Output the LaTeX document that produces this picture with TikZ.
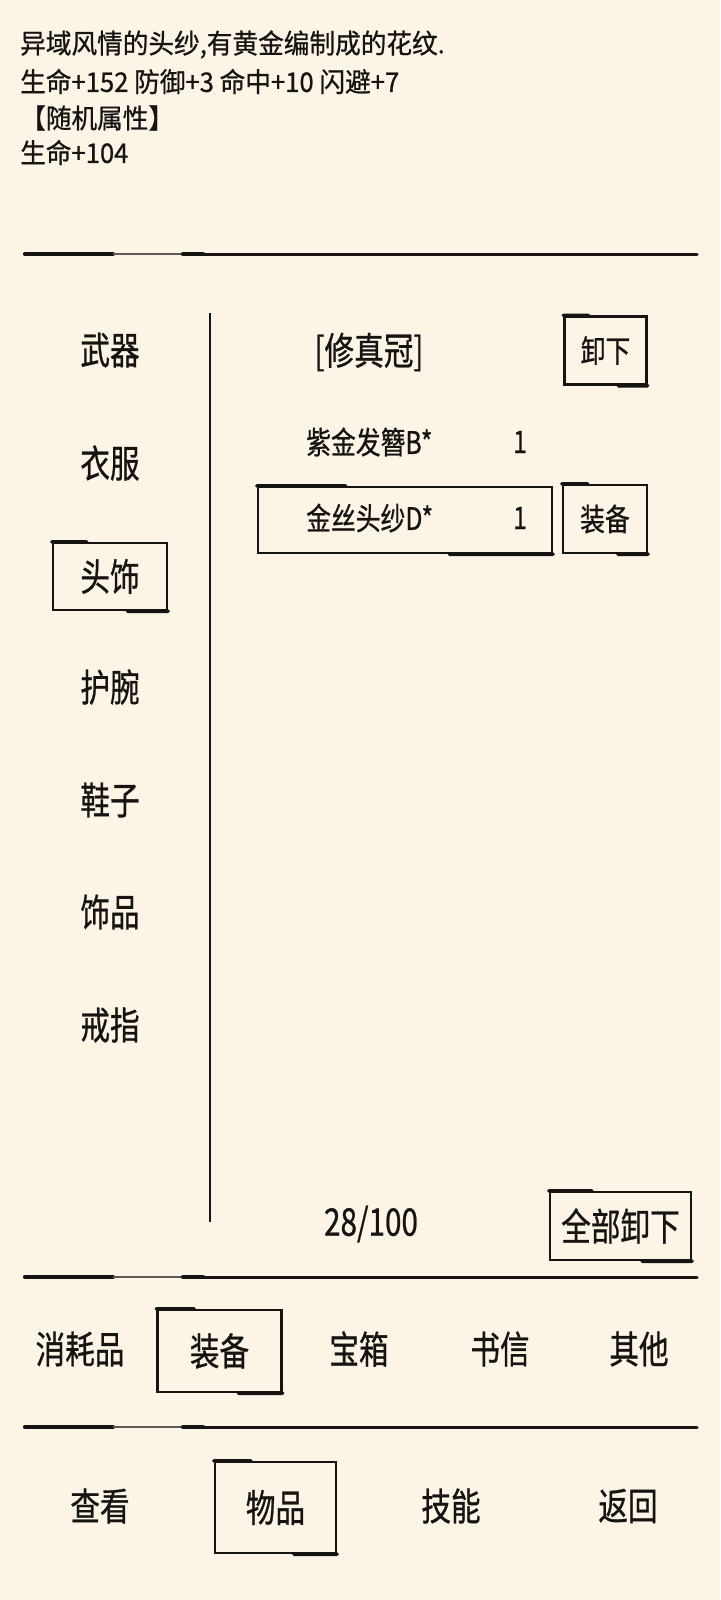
\documentclass[tikz,border=0pt]{standalone}
\usepackage{fontspec}
\setmainfont{Noto Sans CJK SC}[FakeBold=0.8]
\usetikzlibrary{calc}
\definecolor{paper}{RGB}{252,245,230}
\definecolor{ink}{RGB}{22,20,18}
\newcommand\txtL[1]{\scalebox{0.78}[1]{\fontsize{38}{40}\selectfont #1}}
\newcommand\txtM[1]{\scalebox{0.8}[1]{\fontsize{31}{33}\selectfont #1}}
\newcommand\txtS[1]{\scalebox{0.95}[1]{\fontsize{27}{29}\selectfont #1}}
\tikzset{
  lbl/.style={inner sep=0pt, text=ink},
  boxed/.style={draw=ink, line width=2.4pt, inner sep=0pt, text=ink},
  brush/.style={draw=ink, line width=3.6pt, line cap=round},
  sepline/.style={draw=ink, line width=3pt, line cap=round},
  septhick/.style={draw=ink, line width=4.2pt, line cap=round},
  sepfade/.style={draw=ink!70, line width=2.8pt},
  vline/.style={draw=ink, line width=2.6pt}
}
\begin{document}
\begin{tikzpicture}[x=1pt,y=-1pt]
\fill[paper] (0,0) rectangle (720,1600);
\useasboundingbox (0,0) rectangle (720,1600);

% description text
\node[lbl, anchor=west] (d1) at (20,44.5) {\txtS{异域风情的头纱,有黄金编制成的花纹.}};
\node[lbl, anchor=west] (d2) at (20,81.5) {\txtS{生命+152 防御+3 命中+10 闪避+7}};
\node[lbl, anchor=west] (d3) at (20,118) {\txtS{【随机属性】}};
\node[lbl, anchor=west] (d4) at (20,152.5) {\txtS{生命+104}};

% separators (brush strokes)
\coordinate (s1a) at (25,254); \coordinate (s1b) at (697,254);
\coordinate (s2a) at (25,1277); \coordinate (s2b) at (697,1277);
\coordinate (s3a) at (25,1427); \coordinate (s3b) at (697,1427);
\foreach \a/\b in {s1a/s1b,s2a/s2b,s3a/s3b}{
  \draw[septhick] (\a) -- ($(\a)+(88,0)$);
  \draw[sepfade] ($(\a)+(88,0)$) -- ($(\a)+(158,0)$);
  \draw[septhick] ($(\a)+(158,0)$) -- ($(\a)+(178,0)$);
  \draw[sepline] ($(\a)+(178,0)$) -- (\b);
}

% vertical divider
\coordinate (v1) at (210,313); \coordinate (v2) at (210,1222);
\draw[vline] (v1) -- (v2);

% categories
\node[lbl] (c1) at (110,350) {\txtL{武器}};
\node[lbl] (c2) at (110,463) {\txtL{衣服}};
\node[boxed, minimum width=114pt, minimum height=67pt] (c3) at (110,576.5) {\txtL{头饰}};
\node[lbl] (c4) at (110,687) {\txtL{护腕}};
\node[lbl] (c5) at (110,800) {\txtL{鞋子}};
\node[lbl] (c6) at (110,912) {\txtL{饰品}};
\node[lbl] (c7) at (110,1025) {\txtL{戒指}};

% equipped item
\node[lbl] (cur) at (369,352) {\txtL{[修真冠]}};
\node[boxed, minimum width=82pt, minimum height=68pt] (xie) at (605.5,350.5) {\txtM{卸下}};

% item list
\node[lbl, anchor=west] (i1) at (306,442) {\txtM{紫金发簪B*}};
\node[lbl] (n1) at (520,442) {\txtM{1}};
\node[boxed, minimum width=294pt, minimum height=66pt] (rowsel) at (405,520) {};
\node[lbl, anchor=west] (i2) at (306,518) {\txtM{金丝头纱D*}};
\node[lbl] (n2) at (520,518) {\txtM{1}};
\node[boxed, minimum width=84pt, minimum height=68pt] (zbb) at (605,519) {\txtM{装备}};

% footer of panel
\node[lbl] (cnt) at (371,1224) {\txtL{28/100}};
\node[boxed, minimum width=141pt, minimum height=68pt] (qbx) at (620.5,1226) {\txtL{全部卸下}};

% tabs
\node[lbl] (t1) at (80,1349) {\txtL{消耗品}};
\node[boxed, minimum width=124pt, minimum height=82pt] (t2) at (219.5,1351) {\txtL{装备}};
\node[lbl] (t3) at (359,1349) {\txtL{宝箱}};
\node[lbl] (t4) at (500,1349) {\txtL{书信}};
\node[lbl] (t5) at (639,1349) {\txtL{其他}};

% bottom menu
\node[lbl] (b1) at (100,1506) {\txtL{查看}};
\node[boxed, minimum width=121pt, minimum height=91pt] (b2) at (275.5,1507.5) {\txtL{物品}};
\node[lbl] (b3) at (451,1506) {\txtL{技能}};
\node[lbl] (b4) at (628,1506) {\txtL{返回}};

% brushy accents on boxes
\foreach \n in {c3,xie,rowsel,zbb,qbx,t2,b2}{
  \draw[brush] (\n.north west) -- ($(\n.north west)!0.3!(\n.north east)$);
  \draw[brush] ($(\n.south west)!0.65!(\n.south east)$) -- (\n.south east);
}
\end{tikzpicture}
\end{document}
